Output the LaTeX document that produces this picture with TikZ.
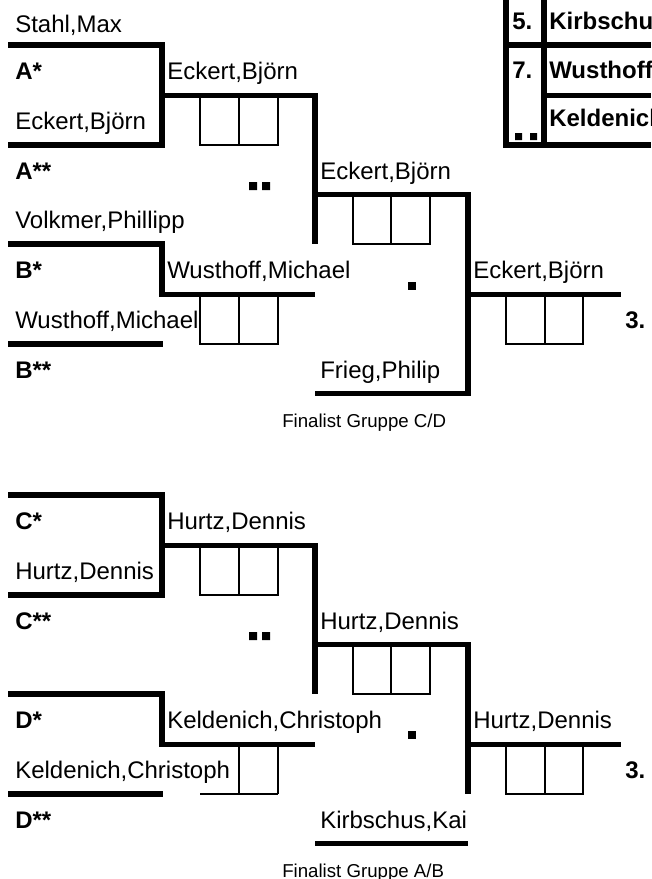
\documentclass[tikz,border=0pt]{standalone}
\usepackage{fontspec}
\setmainfont{Liberation Sans}
\usepackage{tikz}
\tikzstyle{player} = [
    anchor=base west,
    inner sep=0pt,
    font=\fontsize{18}{20}\selectfont
    ]
\tikzstyle{seed} = [player, font=\fontsize{18}{20}\selectfont\bfseries]
\tikzstyle{caption} = [player, font=\fontsize{14}{16}\selectfont]
\tikzstyle{bracket} = [line width=4.2pt, line join=miter]
\tikzstyle{score} = [line width=1.8pt]
\tikzstyle{dot} = [fill=black]

\begin{document}
\begin{tikzpicture}[x=0.75pt, y=-0.75pt]
        \useasboundingbox (0,0) rectangle (651,879);
        \clip (0,0) rectangle (651,879);

        % Gruppe A/B
        \node (stahl) [player] at (15,32) {Stahl,Max};
        \node (aOne) [seed] at (15,79) {A*};
        \node (eckert) [player] at (15,129) {Eckert,Björn};
        \node (aTwo) [seed] at (15,179) {A**};
        \node (volkmer) [player] at (15,228) {Volkmer,Phillipp};
        \node (bOne) [seed] at (15,278) {B*};
        \node (wusthoff) [player] at (15,328) {Wusthoff,Michael};
        \node (bTwo) [seed] at (15,378) {B**};

        \node (winA) [player] at (167,79) {Eckert,Björn};
        \node (winB) [player] at (167,278) {Wusthoff,Michael};
        \node (semiAB) [player] at (320,179) {Eckert,Björn};
        \node (frieg) [player] at (320,378) {Frieg,Philip};
        \node (finalAB) [player] at (473,278) {Eckert,Björn};
        \node (thirdAB) [seed] at (625,328) {3.};
        \node (capCD) [caption] at (282,427) {Finalist Gruppe C/D};

        % Gruppe C/D
        \node (cOne) [seed] at (15,529) {C*};
        \node (hurtz) [player] at (15,579) {Hurtz,Dennis};
        \node (cTwo) [seed] at (15,629) {C**};
        \node (dOne) [seed] at (15,728) {D*};
        \node (keldenich) [player] at (15,778) {Keldenich,Christoph};
        \node (dTwo) [seed] at (15,828) {D**};

        \node (winC) [player] at (167,529) {Hurtz,Dennis};
        \node (winD) [player] at (167,728) {Keldenich,Christoph};
        \node (semiCD) [player] at (320,629) {Hurtz,Dennis};
        \node (kirbschus) [player] at (320,828) {Kirbschus,Kai};
        \node (finalCD) [player] at (473,728) {Hurtz,Dennis};
        \node (thirdCD) [seed] at (625,778) {3.};
        \node (capAB) [caption] at (282,877) {Finalist Gruppe A/B};

        % Tabelle
        \node (rankFive) [seed] at (512,29) {5.};
        \node (rankSeven) [seed] at (512,78) {7.};
        \node (tabKirbschus) [seed] at (549,29) {Kirbschus,Kai};
        \node (tabWusthoff) [seed] at (549,78) {Wusthoff,Michael};
        \node (tabKeldenich) [seed] at (549,126) {Keldenich,Christoph};

        % Lines
        \draw[bracket] (8,45) -- (162,45) -- (162,145) -- (8,145);
        \draw[bracket] (162,95.5) -- (315,95.5) -- (315,244);
        \draw[bracket] (8,244) -- (162,244) -- (162,294.5) -- (315,294.5);
        \draw[bracket] (8,344) -- (163,344);
        \draw[bracket] (315,194.5) -- (468,194.5) -- (468,393.5) -- (315,393.5);
        \draw[bracket] (468,294.5) -- (621,294.5);

        \draw[bracket] (8,495) -- (162,495) -- (162,595) -- (8,595);
        \draw[bracket] (162,545.5) -- (315,545.5) -- (315,694);
        \draw[bracket] (8,694) -- (162,694) -- (162,744.5) -- (315,744.5);
        \draw[bracket] (8,794) -- (163,794);
        \draw[bracket] (315,644.5) -- (468,644.5) -- (468,794);
        \draw[bracket] (315,843.5) -- (468,843.5);
        \draw[bracket] (468,744.5) -- (621,744.5);

        \draw[bracket] (506,0) -- (506,145) -- (651,145);
        \draw[bracket] (544,0) -- (544,145);
        \draw[bracket] (506,45) -- (651,45);
        \draw[bracket] (544,95.5) -- (651,95.5);

        % Ergebnisfelder
        \draw[score] (200,95.5) rectangle (278,145) (239,95.5) -- (239,145);
        \draw[score] (200,294.5) rectangle (278,344) (239,294.5) -- (239,344);
        \draw[score] (353,194.5) rectangle (430,244) (391,194.5) -- (391,244);
        \draw[score] (506,294.5) rectangle (583,344) (545,294.5) -- (545,344);
        \draw[score] (200,545.5) rectangle (278,595) (239,545.5) -- (239,595);
        \draw[score] (239,744.5) -- (239,794) (278,744.5) -- (278,794) (200,794) -- (278,794);
        \draw[score] (353,644.5) rectangle (430,694) (391,644.5) -- (391,694);
        \draw[score] (506,744.5) rectangle (583,794) (545,744.5) -- (545,794);

        % Punkte
        \fill[dot] (249,182) rectangle (257,190) (262,182) rectangle (270,190);
        \fill[dot] (408,282) rectangle (416,290);
        \fill[dot] (249,632) rectangle (257,640) (262,632) rectangle (270,640);
        \fill[dot] (408,731) rectangle (416,739);
        \fill[dot] (515,133) rectangle (522,140) (530,133) rectangle (537,140);

    \end{tikzpicture}
\end{document}
